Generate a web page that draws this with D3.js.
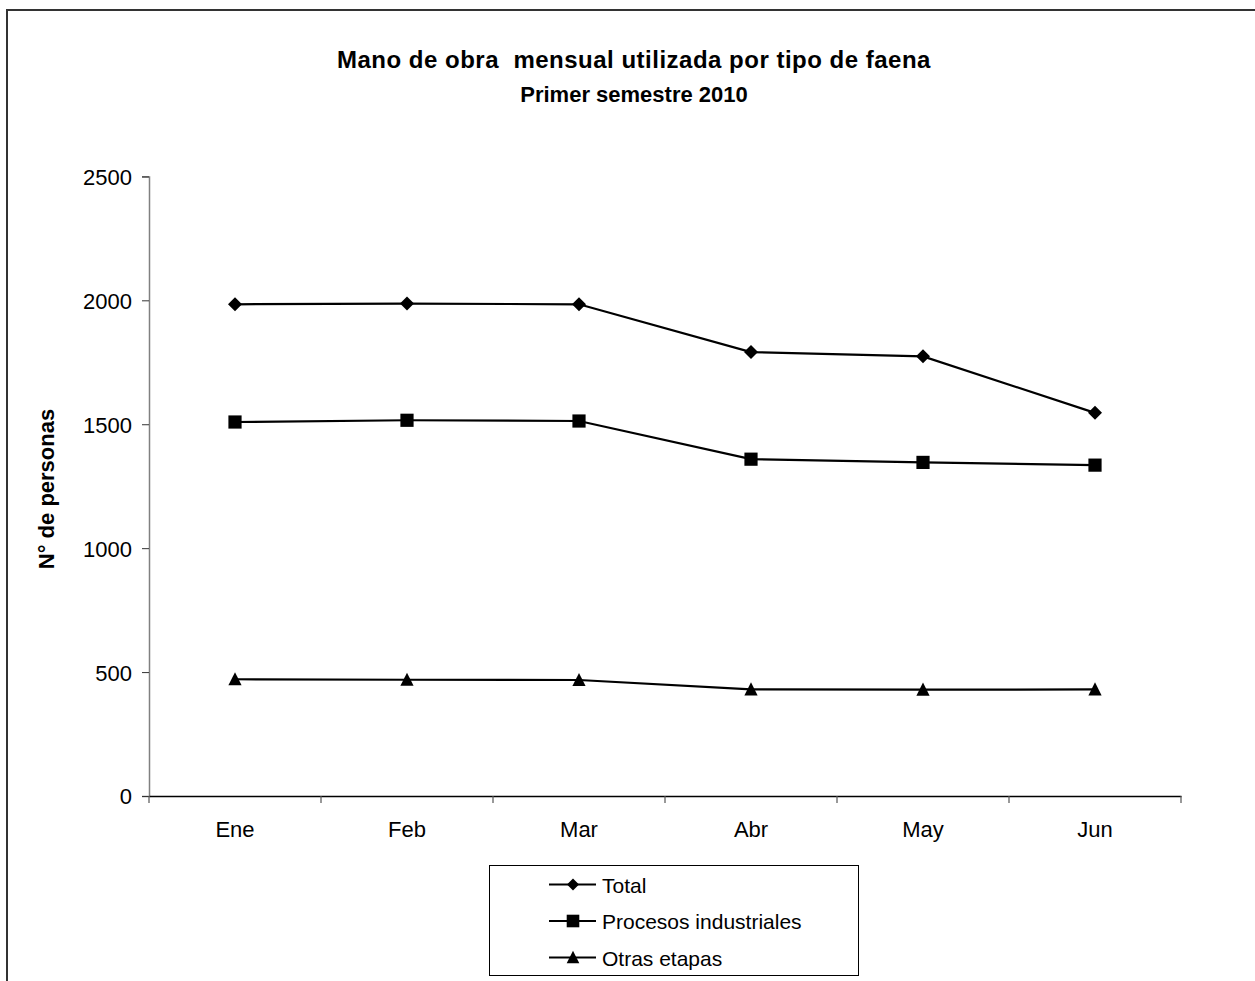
<!DOCTYPE html>
<html>
<head>
<meta charset="utf-8">
<script src="https://cdn.jsdelivr.net/npm/d3@7"></script>
<style>
  html, body { margin: 0; padding: 0; background: #fff; }
  svg { display: block; font-family: "Liberation Sans", Arial, sans-serif; }
</style>
</head>
<body>
<svg id="chart" width="1255" height="981"></svg>
<script>
const months = ["Ene", "Feb", "Mar", "Abr", "May", "Jun"];
const totalValues = [1984, 1987, 1984, 1791, 1774, 1546];
const procesosValues = [1509, 1516, 1513, 1359, 1346, 1335];
const otrasValues = [471, 469, 468, 430, 429, 430];
const yTicks = [0, 500, 1000, 1500, 2000, 2500];
const seriesNames = ["Total", "Procesos industriales", "Otras etapas"];
const seriesSymbols = ["diamond", "square", "triangle"];

const series = [
  { name: seriesNames[0], values: totalValues, symbol: seriesSymbols[0] },
  { name: seriesNames[1], values: procesosValues, symbol: seriesSymbols[1] },
  { name: seriesNames[2], values: otrasValues, symbol: seriesSymbols[2] }
];

const FONT = "'Liberation Sans', Arial, sans-serif";
const svg = d3.select("#chart");

// outer frame (extends beyond the visible window on right and bottom)
svg.append("rect")
  .attr("x", 7).attr("y", 10)
  .attr("width", 1300).attr("height", 1100)
  .attr("fill", "none").attr("stroke", "#333").attr("stroke-width", 2);

const plot = { left: 149, right: 1181, top: 176.4, bottom: 796 };

const x = d3.scaleBand().domain(months).range([plot.left, plot.right]).padding(0);
const y = d3.scaleLinear().domain([0, 2500]).range([plot.bottom, plot.top]);

// Title
svg.append("text")
  .attr("x", 634).attr("y", 68)
  .attr("text-anchor", "middle")
  .attr("font-size", 24).attr("font-weight", "bold")
  .attr("letter-spacing", "0.5px")
  .attr("xml:space", "preserve")
  .text("Mano de obra  mensual utilizada por tipo de faena");
svg.append("text")
  .attr("x", 634).attr("y", 102)
  .attr("text-anchor", "middle")
  .attr("font-size", 22).attr("font-weight", "bold")
  .text("Primer semestre 2010");

// Y axis
const yAxis = d3.axisLeft(y).tickValues(yTicks).tickSize(7).tickPadding(10).tickFormat(d3.format("d"));
const gy = svg.append("g").attr("transform", `translate(${plot.left},0)`).call(yAxis);
gy.attr("font-family", FONT).attr("font-size", 22);
gy.select(".domain").attr("stroke", "#808080").attr("stroke-width", 1.5);
gy.selectAll(".tick line").attr("stroke", "#333");
gy.selectAll(".tick text").attr("fill", "#000").attr("dy", "0.36em");

// X axis
const xAxis = d3.axisBottom(x).tickSize(0).tickPadding(25);
const gx = svg.append("g").attr("transform", `translate(0,${plot.bottom})`).call(xAxis);
gx.attr("font-family", FONT).attr("font-size", 22);
gx.select(".domain").attr("stroke", "#000").attr("stroke-width", 1.5);
gx.selectAll(".tick text").attr("fill", "#000");
// boundary ticks between categories
const bounds = months.map(m => x(m)).concat([x(months[months.length - 1]) + x.bandwidth()]);
svg.append("g").selectAll("line").data(bounds).join("line")
  .attr("x1", d => d).attr("x2", d => d)
  .attr("y1", plot.bottom).attr("y2", plot.bottom + 7)
  .attr("stroke", "#555").attr("stroke-width", 1.2);

// Y label
svg.append("text")
  .attr("transform", `translate(54,489) rotate(-90)`)
  .attr("text-anchor", "middle")
  .attr("font-size", 22).attr("font-weight", "bold")
  .text("N° de personas");

function markerPath(type, r) {
  if (type === "diamond") return `M0,${-r}L${r},0L0,${r}L${-r},0Z`;
  if (type === "square") return `M${-r},${-r}H${r}V${r}H${-r}Z`;
  return `M0,${-r - 0.5}L${r},${r - 0.5}L${-r},${r - 0.5}Z`;
}

const line = d3.line().x((d, i) => x(months[i]) + x.bandwidth() / 2).y(d => y(d));

series.forEach(s => {
  svg.append("path")
    .attr("d", line(s.values))
    .attr("fill", "none").attr("stroke", "#000").attr("stroke-width", 2.2);
  svg.append("g").selectAll("path").data(s.values).join("path")
    .attr("transform", (d, i) => `translate(${x(months[i]) + x.bandwidth() / 2},${y(d)})`)
    .attr("d", markerPath(s.symbol, s.symbol === "diamond" ? 7 : 6.6))
    .attr("fill", "#000");
});

// Legend
const legend = svg.append("g");
legend.append("rect")
  .attr("x", 489.5).attr("y", 865.5).attr("width", 369).attr("height", 110)
  .attr("fill", "#fff").attr("stroke", "#000").attr("stroke-width", 1);
const legY = [884.5, 921, 957.5];
series.forEach((s, i) => {
  legend.append("line")
    .attr("x1", 549).attr("x2", 596).attr("y1", legY[i]).attr("y2", legY[i])
    .attr("stroke", "#000").attr("stroke-width", 2);
  legend.append("path")
    .attr("transform", `translate(573,${legY[i]})`)
    .attr("d", markerPath(s.symbol, s.symbol === "diamond" ? 6 : 6.3))
    .attr("fill", "#000");
  legend.append("text")
    .attr("x", 602).attr("y", legY[i] + 8)
    .attr("font-size", 21)
    .text(s.name);
});
</script>
</body>
</html>
